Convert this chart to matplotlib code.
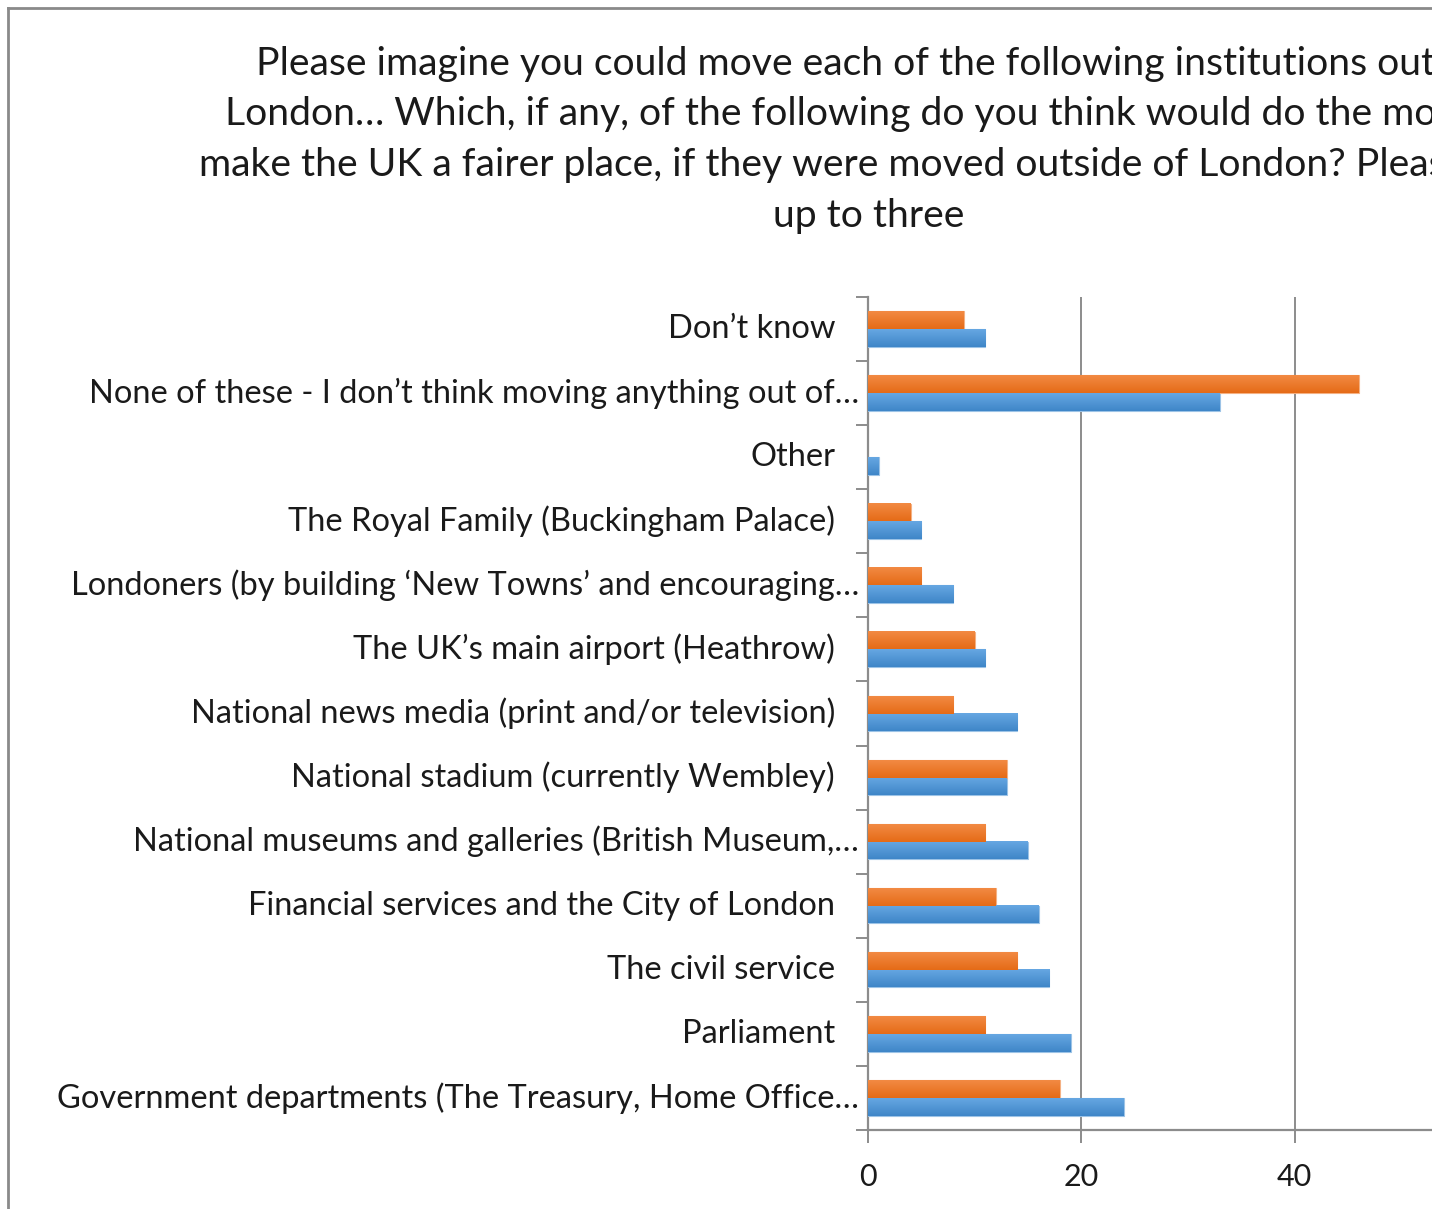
import matplotlib
matplotlib.use("Agg")
import matplotlib.pyplot as plt
import numpy as np
from matplotlib.colors import LinearSegmentedColormap
from matplotlib.lines import Line2D
from matplotlib.patches import Rectangle
import matplotlib.transforms as mtransforms

# ---- data (bottom to top) ----
categories = [
    "Government departments (The Treasury, Home Office…",
    "Parliament",
    "The civil service",
    "Financial services and the City of London",
    "National museums and galleries (British Museum,…",
    "National stadium (currently Wembley)",
    "National news media (print and/or television)",
    "The UK’s main airport (Heathrow)",
    "Londoners (by building ‘New Towns’ and encouraging…",
    "The Royal Family (Buckingham Palace)",
    "Other",
    "None of these - I don’t think moving anything out of…",
    "Don’t know",
]
series_blue = [24, 19, 17, 16, 15, 13, 14, 11, 8, 5, 1, 33, 11]
series_orange = [18, 11, 14, 12, 11, 13, 8, 10, 5, 4, 0, 46, 9]
x_ticks = [0, 20, 40]
x_grid = [20, 40, 60]
title = ("Please imagine you could move each of the following institutions out of\n"
         "London… Which, if any, of the following do you think would do the most to\n"
         "make the UK a fairer place, if they were moved outside of London? Please tick\n"
         "up to three")

FONT = "Lato"
W, H = 1448, 1209
fig = plt.figure(figsize=(W / 100, H / 100), dpi=100)
fig.patch.set_facecolor("white")

def fx(px):
    return px / W

def fy(py):
    return 1 - py / H

# axes extends past the right edge of the canvas
ax_left, ax_right, ax_top, ax_bottom = 868, 1508, 297, 1130
ax = fig.add_axes([fx(ax_left), fy(ax_bottom), fx(ax_right - ax_left), (ax_bottom - ax_top) / H])

y = np.arange(len(categories))
bh = 0.275
bars_b = ax.barh(y - bh / 2, series_blue, height=bh, color="#5B9BD5", edgecolor="#9CC3E6",
                 linewidth=0.8, zorder=3)
bars_o = ax.barh(y + bh / 2, series_orange, height=bh, color="#ED7D31", edgecolor="#F4B183",
                 linewidth=0.8, zorder=3)

# subtle vertical gradient on each bar
cm_b = LinearSegmentedColormap.from_list("b", ["#3F86C8", "#66A7E2"])
cm_o = LinearSegmentedColormap.from_list("o", ["#E56B17", "#F28A43"])
grad = np.linspace(0, 1, 64).reshape(-1, 1)
for bars, cm in ((bars_b, cm_b), (bars_o, cm_o)):
    for p in bars:
        x0, y0 = p.get_x(), p.get_y()
        w, h = p.get_width(), p.get_height()
        if w <= 0:
            p.set_visible(False)
            continue
        ax.imshow(grad, extent=[x0, x0 + w, y0, y0 + h], origin="lower", aspect="auto",
                  cmap=cm, zorder=3.5, interpolation="bilinear")

ax.set_xlim(0, 60)
ax.set_ylim(-0.5, len(categories) - 0.5)

grid_c = "#8C8C8C"
ax.set_xticks(x_ticks)
ax.set_xticklabels([str(v) for v in x_ticks], fontsize=22, family=FONT, color="#1A1A1A")
ax.tick_params(axis="x", length=9, width=1.4, color=grid_c, pad=15)
for g in x_grid:
    ax.axvline(g, color=grid_c, linewidth=1.4, zorder=0)

# category boundary ticks on the y axis, labels drawn separately
ax.set_yticks(np.arange(-0.5, len(categories), 1.0))
ax.set_yticklabels([])
ax.tick_params(axis="y", length=9, width=1.4, color=grid_c)

for s in ("top", "right"):
    ax.spines[s].set_visible(False)
for s in ("left", "bottom"):
    ax.spines[s].set_color(grid_c)
    ax.spines[s].set_linewidth(1.6)

trans = mtransforms.blended_transform_factory(ax.transAxes, ax.transData)
for i, lab in enumerate(categories):
    off = -9 if lab.endswith("…") else -33
    t = trans + mtransforms.ScaledTranslation(off / 100, 0, fig.dpi_scale_trans)
    ax.text(0, i, lab, transform=t, ha="right", va="center", fontsize=23.5,
            family=FONT, color="#1A1A1A")

fig.text(fx(869), fy(46), title, ha="center", va="top", fontsize=28.2, family=FONT,
         color="#1A1A1A", linespacing=1.5)

# outer chart frame (left and top edges)
frame_c = "#8A8A8A"
fig.add_artist(Line2D([fx(8), fx(8)], [fy(8), 0], color=frame_c, linewidth=2, transform=fig.transFigure))
fig.add_artist(Line2D([fx(8), fx(1432)], [fy(8), fy(8)], color=frame_c, linewidth=2, transform=fig.transFigure))

# blank strip at the right edge
fig.add_artist(Rectangle((fx(1432), 0), 1 - fx(1432), 1, transform=fig.transFigure,
                         facecolor="white", edgecolor="none", zorder=100))

fig.savefig("out.png", dpi=100)
